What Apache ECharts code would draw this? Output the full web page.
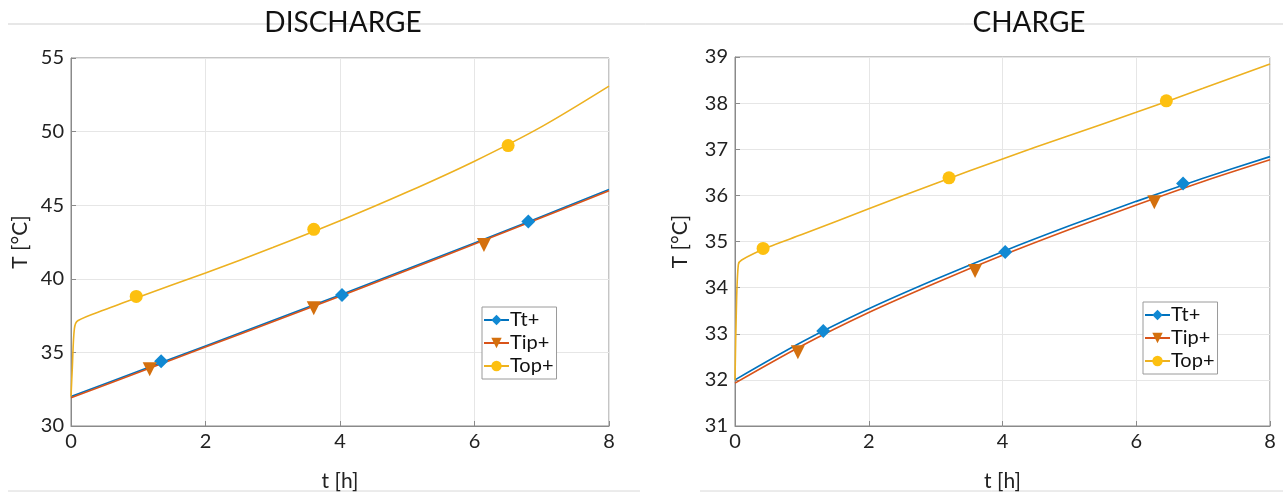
<!DOCTYPE html>
<html>
<head>
<meta charset="utf-8">
<script src="https://cdn.jsdelivr.net/npm/echarts@6/dist/echarts.min.js"></script>
<style>html,body{margin:0;padding:0;background:#fff}#c{width:1283px;height:497px}</style>
</head>
<body>
<div id="c"></div>
<script>
// ---- Data ----
const seriesNames = ['Tt+', 'Tip+', 'Top+'];
const xTicks = [0, 2, 4, 6, 8];

// DISCHARGE
const dTime      = [0, 1, 2, 3, 4, 5, 6, 7, 8];
const dTt        = [32.0, 33.72, 35.44, 37.16, 38.9, 40.66, 42.44, 44.24, 46.06];
const dTip       = [31.92, 33.64, 35.36, 37.08, 38.82, 40.58, 42.36, 44.16, 45.98];
const dTopTime   = [0, 0.02, 0.05, 0.1, 0.5, 1, 2, 3, 4, 5, 6, 7, 8];
const dTop       = [32.0, 34.0, 36.6, 37.15, 37.9, 38.75, 40.4, 42.12, 43.94, 45.89, 47.99, 50.34, 53.09];
const dTtMarkT   = [1.34, 4.03, 6.8];
const dTtMark    = [34.4, 38.9, 43.9];
const dTipMarkT  = [1.17, 3.61, 6.14];
const dTipMark   = [33.85, 38.0, 42.3];
const dTopMarkT  = [0.97, 3.61, 6.5];
const dTopMark   = [38.8, 43.36, 49.05];

// CHARGE
const cTime      = [0, 1, 2, 3, 4, 5, 6, 7, 8];
const cTt        = [32.0, 32.82, 33.54, 34.18, 34.78, 35.34, 35.87, 36.37, 36.84];
const cTip       = [31.93, 32.74, 33.46, 34.1, 34.7, 35.26, 35.79, 36.3, 36.77];
const cTopTime   = [0, 0.02, 0.05, 0.1, 0.5, 1, 2, 3, 4, 5, 6, 7, 8];
const cTop       = [32.0, 33.5, 34.5, 34.6, 34.88, 35.15, 35.71, 36.26, 36.79, 37.3, 37.8, 38.32, 38.85];
const cTtMarkT   = [1.32, 4.04, 6.7];
const cTtMark    = [33.06, 34.77, 36.26];
const cTipMarkT  = [0.94, 3.59, 6.27];
const cTipMark   = [32.6, 34.36, 35.85];
const cTopMarkT  = [0.42, 3.2, 6.45];
const cTopMark   = [34.85, 36.38, 38.05];

// ---- Styling ----
const FONT = 'Lato, "Open Sans", sans-serif';
const lineColors = ['#0072BD', '#D95319', '#EDB120'];
const markColors = ['#1189D3', '#D4700E', '#FDC010'];
const symbols = ['diamond', 'triangle', 'circle'];
const symRot = [0, 180, 0];
const symSizes = [14, 14, 13];

function pairs(xs, ys) { return xs.map((x, i) => [x, ys[i]]); }

const chart = echarts.init(document.getElementById('c'), null, {renderer: 'canvas'});

function axisPair(gi, ymin, ymax, yint) {
  const x = {
    type: 'value', gridIndex: gi, min: 0, max: 8, interval: 2,
    name: 't [h]', nameLocation: 'middle', nameGap: 45,
    nameTextStyle: {fontFamily: FONT, fontSize: 21, color: '#222'},
    axisLine: {show: true, lineStyle: {color: '#8a8a8a'}},
    axisTick: {show: true, inside: true, length: 5, lineStyle: {color: '#8a8a8a'}},
    axisLabel: {fontFamily: FONT, fontSize: 20, color: '#222', margin: 6},
    splitLine: {show: true, lineStyle: {color: '#e6e6e6'}}
  };
  const y = {
    type: 'value', gridIndex: gi, min: ymin, max: ymax, interval: yint,
    name: 'T [°C]', nameLocation: 'middle', nameGap: gi === 0 ? 40 : 44,
    nameTextStyle: {fontFamily: FONT, fontSize: 21, color: '#222'},
    axisLine: {show: true, lineStyle: {color: '#8a8a8a'}},
    axisTick: {show: true, inside: true, length: 5, lineStyle: {color: '#8a8a8a'}},
    axisLabel: {fontFamily: FONT, fontSize: 20, color: '#222', margin: 7},
    splitLine: {show: true, lineStyle: {color: '#e6e6e6'}}
  };
  return [x, y];
}

const [x0, y0] = axisPair(0, 30, 55, 5);
const [x1, y1] = axisPair(1, 31, 39, 1);

function lineSeries(i, gi, xs, ys) {
  return {
    name: seriesNames[i], type: 'line', xAxisIndex: gi, yAxisIndex: gi,
    data: pairs(xs, ys), showSymbol: false, symbol: symbols[i], symbolRotate: symRot[i],
    smooth: 0.3, lineStyle: {color: lineColors[i], width: 1.6},
    itemStyle: {color: markColors[i]}, z: 2, animation: false
  };
}
function markSeries(i, gi, xs, ys) {
  return {
    name: seriesNames[i], type: 'scatter', xAxisIndex: gi, yAxisIndex: gi,
    data: pairs(xs, ys), symbol: symbols[i], symbolRotate: symRot[i], symbolSize: symSizes[i],
    itemStyle: {color: markColors[i], opacity: 1}, z: 3, animation: false
  };
}

function legendAt(left, top) {
  return {
    orient: 'vertical', left: left, top: top, itemWidth: 25, itemHeight: 13, itemGap: 3,
    padding: [3, 3, 3, 1], borderColor: '#9a9a9a', borderWidth: 1, backgroundColor: '#fff',
    textStyle: {fontFamily: FONT, fontSize: 20, color: '#111', padding: [0, 0, 0, -4]},
    data: seriesNames, selectedMode: false
  };
}

chart.setOption({
  animation: false,
  backgroundColor: '#fff',
  title: [
    {text: 'DISCHARGE', left: 338, top: 4, textAlign: 'center',
     textStyle: {fontFamily: FONT, fontSize: 28, fontWeight: 'normal', color: '#111'}},
    {text: 'CHARGE', left: 1024, top: 4, textAlign: 'center',
     textStyle: {fontFamily: FONT, fontSize: 28, fontWeight: 'normal', color: '#111'}}
  ],
  graphic: [
    {type: 'line', shape: {x1: 8, y1: 24, x2: 1283, y2: 24}, style: {stroke: '#cfcfcf', lineWidth: 1}, z: -10},
    {type: 'line', shape: {x1: 8, y1: 491, x2: 640, y2: 491}, style: {stroke: '#d8d8d8', lineWidth: 1}, z: -10},
    {type: 'line', shape: {x1: 700, y1: 491, x2: 1283, y2: 491}, style: {stroke: '#d8d8d8', lineWidth: 1}, z: -10}
  ],
  grid: [
    {left: 71, right: 674, top: 58, bottom: 61, show: true, borderColor: '#8a8a8a', borderWidth: 1, backgroundColor: 'transparent'},
    {left: 735, right: 13, top: 57, bottom: 64, show: true, borderColor: '#8a8a8a', borderWidth: 1, backgroundColor: 'transparent'}
  ],
  xAxis: [x0, x1],
  yAxis: [y0, y1],
  legend: [legendAt(482, 307), legendAt(1143, 302)],
  series: [
    lineSeries(0, 0, dTime, dTt),
    lineSeries(1, 0, dTime, dTip),
    lineSeries(2, 0, dTopTime, dTop),
    markSeries(0, 0, dTtMarkT, dTtMark),
    markSeries(1, 0, dTipMarkT, dTipMark),
    markSeries(2, 0, dTopMarkT, dTopMark),
    lineSeries(0, 1, cTime, cTt),
    lineSeries(1, 1, cTime, cTip),
    lineSeries(2, 1, cTopTime, cTop),
    markSeries(0, 1, cTtMarkT, cTtMark),
    markSeries(1, 1, cTipMarkT, cTipMark),
    markSeries(2, 1, cTopMarkT, cTopMark)
  ]
});
</script>
</body>
</html>
